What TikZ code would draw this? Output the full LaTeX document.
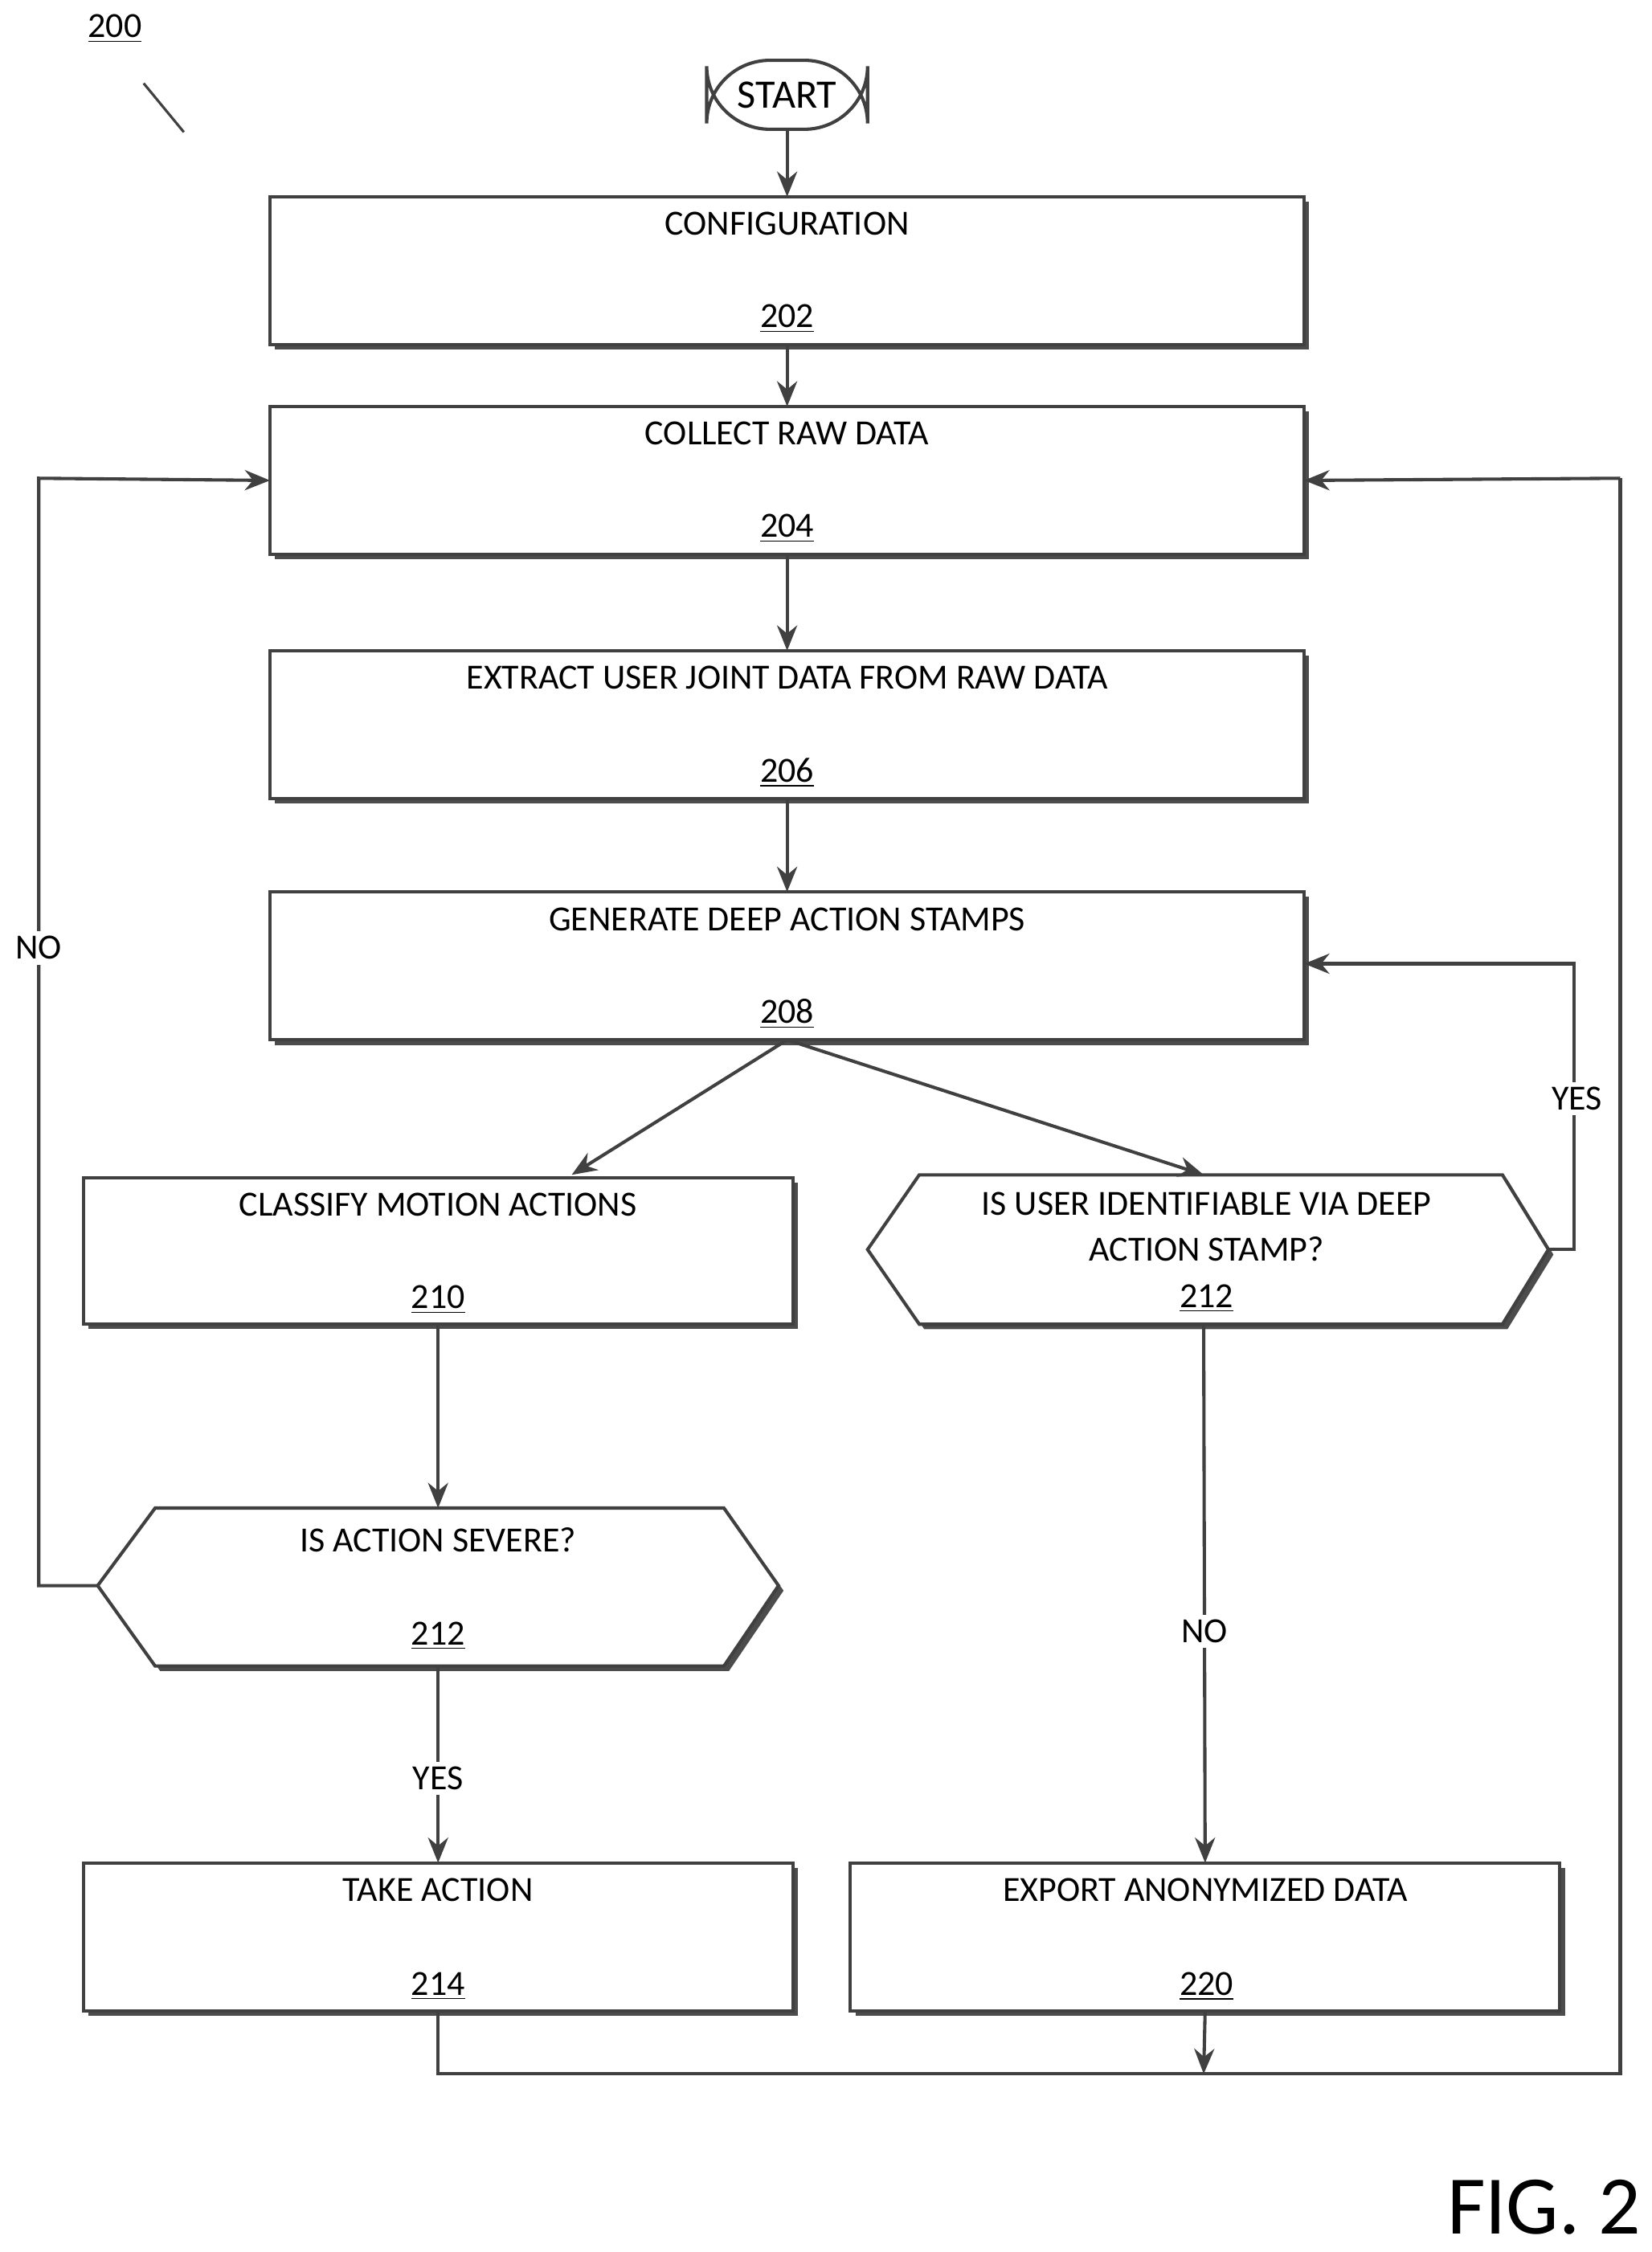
\documentclass[tikz,border=0pt]{standalone}
\usepackage{fontspec}
\setmainfont{Carlito}
\usetikzlibrary{shadows,arrows.meta}
\begin{document}
\begin{tikzpicture}[x=0.02cm,y=-0.02cm,
  ln/.style={draw=black!75,line width=1.3pt},
  arr/.style={ln,-{Stealth[length=10pt,width=8pt]}},
  sh/.style={drop shadow={shadow xshift=0.07cm,shadow yshift=-0.07cm,opacity=1,fill=black!70}},
  box/.style={ln,fill=white,sh},
  txt/.style={font=\fontsize{14}{16}\selectfont,inner sep=0pt},
  lbl/.style={font=\fontsize{14}{16}\selectfont,fill=white,inner sep=2pt}]
\useasboundingbox (0,0) rectangle (1150,1568);
\node[txt] (n200) at (80,20) {\underline{200}};
\draw[ln,line width=1pt] (100,58) -- (128,92);
\node[ln,fill=white,rounded corners=25pt,minimum width=112*0.02cm,minimum height=48*0.02cm,txt,font=\fontsize{16}{18}\selectfont] (start) at (548,66) {START};
\newcommand\flowbox[6]{%
  \draw[box] (#2,#3) rectangle (#4,#5);
  \coordinate (#1-n) at ({(#2+#4)/2},#3);
  \coordinate (#1-s) at ({(#2+#4)/2},#5);
  \coordinate (#1-w) at (#2,{(#3+#5)/2});
  \coordinate (#1-e) at (#4,{(#3+#5)/2});
  \node[txt] (#1-t) at ({(#2+#4)/2},#3+19) {#6};}
\flowbox{b202}{188}{137}{908}{240}{CONFIGURATION}
\node[txt] (l202) at (548,222) {\underline{202}};
\flowbox{b204}{188}{283}{908}{386}{COLLECT RAW DATA}
\node[txt] (l204) at (548,368) {\underline{204}};
\flowbox{b206}{188}{453}{908}{556}{EXTRACT USER JOINT DATA FROM RAW DATA}
\node[txt] (l206) at (548,538) {\underline{206}};
\flowbox{b208}{188}{621}{908}{724}{GENERATE DEEP ACTION STAMPS}
\node[txt] (l208) at (548,706) {\underline{208}};
\flowbox{b210}{58}{820}{552}{922}{CLASSIFY MOTION ACTIONS}
\node[txt] (l210) at (305,905) {\underline{210}};
\flowbox{b214}{58}{1297}{552}{1400}{TAKE ACTION}
\node[txt] (l214) at (305,1383) {\underline{214}};
\flowbox{b220}{592}{1297}{1086}{1400}{EXPORT ANONYMIZED DATA}
\node[txt] (l220) at (840,1383) {\underline{220}};
\draw[box] (640,818) -- (1046,818) -- (1078,870) -- (1046,922) -- (640,922) -- (604,870) -- cycle;
\coordinate (h1-n) at (838,818); \coordinate (h1-s) at (838,922); \coordinate (h1-e) at (1078,870);
\node[txt,align=center] (h1t) at (840,854) {IS USER IDENTIFIABLE VIA DEEP\\[2pt]ACTION STAMP?};
\node[txt] (h1l) at (840,904) {\underline{212}};
\draw[box] (108,1050) -- (504,1050) -- (542,1104) -- (504,1160) -- (108,1160) -- (68,1104) -- cycle;
\coordinate (h2-n) at (305,1050); \coordinate (h2-s) at (305,1160); \coordinate (h2-w) at (68,1104);
\node[txt] (h2t) at (305,1072) {IS ACTION SEVERE?};
\node[txt] (h2l) at (305,1139) {\underline{212}};
\draw[arr] (start) -- (b202-n);
\draw[arr] (b202-s) -- (b204-n);
\draw[arr] (b204-s) -- (b206-n);
\draw[arr] (b206-s) -- (b208-n);
\draw[arr] (b208-s) -- (398,818);
\draw[arr] (b208-s) -- (h1-n);
\draw[arr] (b210-s) -- (h2-n);
\draw[arr] (h2-s) -- (b214-n) node[lbl,pos=0.57] {YES};
\draw[arr] (h2-w) -- (27,1104) -- (27,333) -- (b204-w);
\node[lbl] (no1) at (27,660) {NO};
\draw[arr] (h1-e) -- (1096,870) -- (1096,671) -- (908,671);
\node[lbl] (yes2) at (1098,765) {YES};
\draw[arr] (h1-s) -- (b220-n) node[lbl,pos=0.57] {NO};
\coordinate (j) at (838,1444);
\draw[ln] (b214-s) -- (305,1444) -- (1128,1444) -- (1128,333);
\draw[arr] (1128,333) -- (b204-e);
\draw[arr] (b220-s) -- (j);
\node[font=\fontsize{33}{36}\selectfont,inner sep=0pt] (fig) at (1075,1537) {FIG. 2};
\end{tikzpicture}
\end{document}
